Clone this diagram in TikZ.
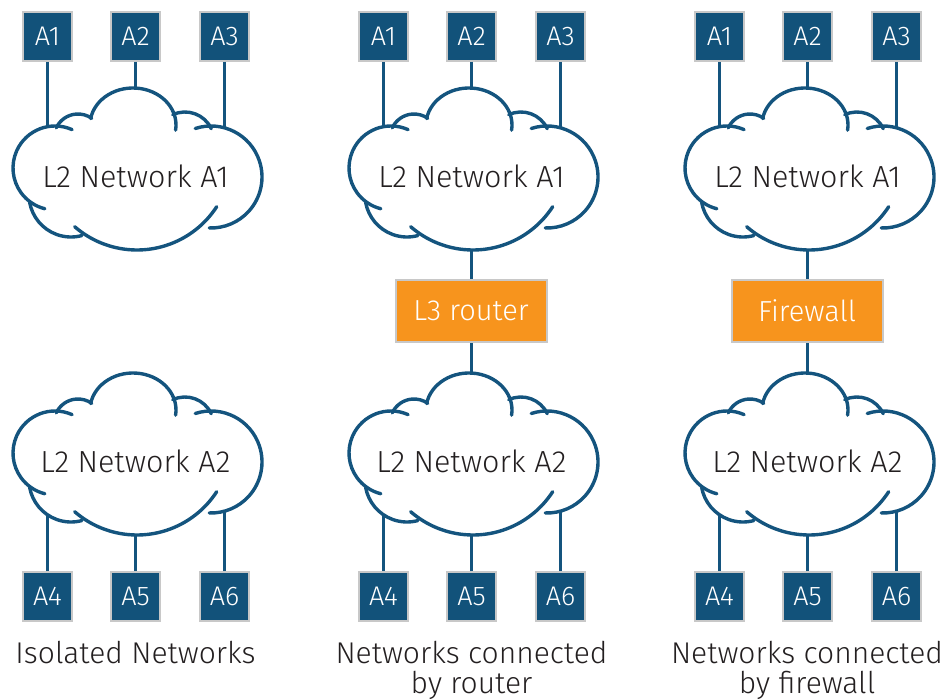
\documentclass[tikz,border=0pt]{standalone}
\usepackage{fontspec}
\setmainfont{Fira Sans Light}
\definecolor{hostblue}{RGB}{18,82,122}
\definecolor{linkblue}{RGB}{20,84,126}
\definecolor{boxgray}{RGB}{200,200,200}
\definecolor{huborange}{RGB}{247,148,29}
\definecolor{inkdark}{RGB}{35,31,32}
\tikzset{
  pics/netcloud/.style={code={
    % overlapping arcs; their ends curl into the cloud
    \draw[cloudline] (-82,1) ++(66:42pt) arc[start angle=66,end angle=256,radius=42pt];
    \draw[cloudline] (-59,31) ++(155:24pt) arc[start angle=155,end angle=55,radius=24pt];
    \draw[cloudline] (-4,44) ++(170:43pt and 37pt) arc[start angle=170,end angle=-8,x radius=43pt,y radius=37pt];
    \draw[cloudline] (48,28) ++(115:29pt) arc[start angle=115,end angle=25,radius=29pt];
    \draw[cloudline] (74,-8) ++(108:51pt) arc[start angle=108,end angle=-92,radius=51pt];
    \draw[cloudline] (0,14) ++(-33:95pt) arc[start angle=-33,end angle=-131,radius=95pt];
    \draw[cloudline] (-66,-26) ++(190:42pt) arc[start angle=190,end angle=285,radius=42pt];
    % attachment points on the outline
    \coordinate (-nw) at (-89.5,42.3);
    \coordinate (-n)  at (-1.5,81);
    \coordinate (-ne) at (87.5,41.2);
    \coordinate (-sw) at (-89.5,-60.8);
    \coordinate (-s)  at (-1.5,-81);
    \coordinate (-se) at (87.5,-57.2);
  }}
}
\begin{document}
\begin{tikzpicture}[x=1pt,y=1pt,
  every node/.style={inner sep=0pt},
  hostbox/.style={draw=boxgray,line width=2pt,fill=hostblue,minimum size=49pt,
    text=white,font=\fontsize{27}{27}\selectfont},
  hubbox/.style={draw=boxgray,line width=2pt,fill=huborange,minimum width=151pt,
    minimum height=62pt,text=white,font=\fontsize{29}{29}\selectfont},
  link/.style={draw=linkblue,line width=2.6pt},
  cloudline/.style={draw=linkblue,line width=3.4pt,line cap=round},
  netlabel/.style={text=inkdark,font=\fontsize{30.5}{30.5}\selectfont,anchor=base},
  caption/.style={text=inkdark,font=\fontsize{30}{30}\selectfont,anchor=base}]

\useasboundingbox (0,0) rectangle (946,-700);

\foreach \c/\k in {0/1,336/2,672/3}{
  % hosts above and below
  \node[hostbox] (h\k1) at ({47.5+\c},-36.3) {A1};
  \node[hostbox] (h\k2) at ({135.5+\c},-36.3) {A2};
  \node[hostbox] (h\k3) at ({224.5+\c},-36.3) {A3};
  \node[hostbox] (h\k4) at ({47.5+\c},-596.7) {A4};
  \node[hostbox] (h\k5) at ({135.5+\c},-596.7) {A5};
  \node[hostbox] (h\k6) at ({224.5+\c},-596.7) {A6};
  % the two layer-2 networks
  \pic (up\k) at ({137+\c},-169) {netcloud};
  \pic (dn\k) at ({137+\c},-454) {netcloud};
  \node[netlabel] (upl\k) at ({135.5+\c},-187.3) {L2 Network A1};
  \node[netlabel] (dnl\k) at ({135.5+\c},-472.3) {L2 Network A2};
  % host links
  \draw[link] (h\k1.south) -- (up\k-nw);
  \draw[link] (h\k2.south) -- (up\k-n);
  \draw[link] (h\k3.south) -- (up\k-ne);
  \draw[link] (h\k4.north) -- (dn\k-sw);
  \draw[link] (h\k5.north) -- (dn\k-s);
  \draw[link] (h\k6.north) -- (dn\k-se);
}

% devices joining the networks
\node[hubbox] (hub2) at (471,-311) {L3 router};
\node[hubbox] (hub3) at (807,-311) {Firewall};
\foreach \k in {2,3}{
  \draw[link] (up\k-s) -- (up\k-s |- hub\k.north);
  \draw[link] (dn\k-n |- hub\k.south) -- (dn\k-n);
}

% captions
\node[caption] (cap1) at (135.5,-663) {Isolated Networks};
\node[caption] (cap2a) at (471.5,-663) {Networks connected};
\node[caption] (cap2b) at (471.5,-693) {by router};
\node[caption] (cap3a) at (807,-663) {Networks connected};
\node[caption] (cap3b) at (807,-693) {by firewall};
\end{tikzpicture}
\end{document}
